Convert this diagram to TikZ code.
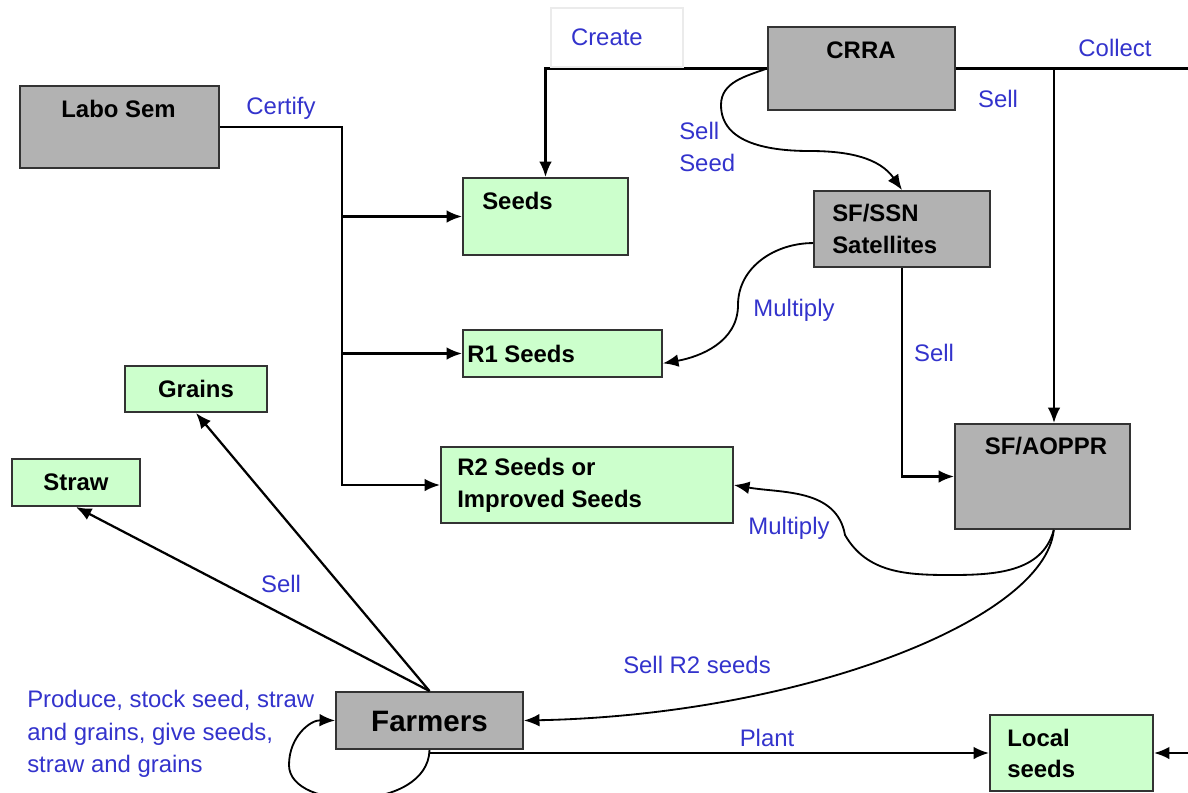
\documentclass[tikz,border=0pt]{standalone}
\usepackage{fontspec}
\setmainfont{Liberation Sans}
\usetikzlibrary{arrows.meta}
\definecolor{grisfond}{RGB}{178,178,178}
\definecolor{vertfond}{RGB}{204,255,204}
\definecolor{bleutexte}{RGB}{51,51,204}

\begin{document}
\begin{tikzpicture}[x=0.025cm,y=-0.025cm]
		% Styles
		\tikzstyle{gris}=[fill=grisfond,draw=black!80,line width=1.4pt,inner sep=0pt]
		\tikzstyle{vert}=[fill=vertfond,draw=black!80,line width=1.4pt,inner sep=0pt]
		\tikzstyle{titre}=[font=\bfseries\fontsize{17}{22.5}\selectfont,align=left,inner sep=0pt]
		\tikzstyle{libelle}=[text=bleutexte,font=\fontsize{17}{23}\selectfont,align=left,inner sep=0pt]
		\tikzstyle{lien}=[->,>={Latex[length=11pt,width=9pt]},line width=1.6pt]
		\tikzstyle{trait}=[-,line width=1.6pt]
		\tikzstyle{courbe}=[->,>={Latex[length=11pt,width=9pt]},line width=1.3pt]
		% Dimensions (un pixel)
		\def\px{0.025cm}
		
		\useasboundingbox (0,0) rectangle (1188,792);
		
		% Boites
		\node[gris,minimum width=199*\px,minimum height=82*\px] (labo) at (119.5,127) {};
		\node[gris,minimum width=187*\px,minimum height=83*\px] (crra) at (861.5,68.5) {};
		\node[vert,minimum width=165*\px,minimum height=77*\px] (seeds) at (545.5,216.5) {};
		\node[gris,minimum width=176*\px,minimum height=76*\px] (ssn) at (902,229) {};
		\node[vert,minimum width=199*\px,minimum height=47*\px] (r1) at (562.5,353.5) {};
		\node[vert,minimum width=142*\px,minimum height=46*\px] (grains) at (196,389) {};
		\node[vert,minimum width=128*\px,minimum height=47*\px] (straw) at (76,482.5) {};
		\node[vert,minimum width=292*\px,minimum height=76*\px] (r2) at (587,485) {};
		\node[gris,minimum width=175*\px,minimum height=105*\px] (aoppr) at (1042.5,476.5) {};
		\node[gris,minimum width=187*\px,minimum height=57*\px] (farmers) at (429.5,720.5) {};
		\node[vert,minimum width=163*\px,minimum height=76*\px] (local) at (1071.5,753) {};
		
		% Textes des boites
		\node[titre] (tLabo) at (118.5,109) {Labo Sem};
		\node[titre] (tCrra) at (861,50) {CRRA};
		\node[titre,anchor=west] (tSeeds) at (482,201) {Seeds};
		\node[titre,anchor=west] (tSsn) at (832,229) {SF/SSN\\Satellites};
		\node[titre,anchor=west] (tR1) at (467,353.5) {R1 Seeds};
		\node[titre] (tGrains) at (196,389) {Grains};
		\node[titre] (tStraw) at (76,482.5) {Straw};
		\node[titre,anchor=west] (tR2) at (457,485.5) {R2 Seeds or\\Improved Seeds};
		\node[titre] (tAoppr) at (1046,446) {SF/AOPPR};
		\node[titre,font=\bfseries\fontsize{21}{25}\selectfont] (tFarmers) at (429.5,721) {Farmers};
		\node[titre,anchor=west] (tLocal) at (1007,753.5) {Local\\seeds};
		
		% Points libres
		\coordinate (certif) at (342,127);
		\coordinate (collecte) at (1054,68.5);
		\coordinate (bordA) at (1188,68.5);
		\coordinate (bordB) at (1188,753);
		
		% Arcs
		\draw[lien] (labo.east) -- (certif) |- (r2.west);
		\draw[lien] (certif |- seeds.west) -- (seeds.west);
		\draw[lien] (certif |- r1.west) -- (r1.west);
		\draw[lien] (crra.west) -| (seeds.north);
		\draw[trait] (crra.east) -- (bordA);
		\draw[lien] (collecte) -- (collecte |- aoppr.north);
		\draw[courbe] (crra.west) to[out=200,in=90] (721,105) to[out=-90,in=180] (810,151) to[out=0,in=125] (ssn.north);
		\draw[courbe] ([yshift=-10pt]ssn.west) to[out=180,in=90] (738,305) to[out=-90,in=10] ([yshift=-7pt]r1.east);
		\draw[lien] (ssn.south) |- (aoppr.west);
		\draw[courbe] ([xshift=8pt]aoppr.south) to[out=-105,in=0] (950,575) to[out=180,in=-60] (845,535) to[out=100,in=-10] (r2.east);
		\draw[courbe] ([xshift=8pt]aoppr.south) .. controls (1045,620) and (800,715) .. (farmers.east);
		\draw[lien] (farmers.north) -- (straw.south);
		\draw[lien] (farmers.north) -- (grains.south);
		\draw[courbe] (farmers.south) .. controls (428,812) and (289,812) .. (289,765) .. controls (289,737) and (310,720) .. (farmers.west);
		\draw[lien] (farmers.south |- local.west) -- (local.west);
		\draw[lien] (bordB) -- (local.east);
		
		% Etiquettes
		\node[libelle] (lCertify) at (281,108) {Certify};
		\node[libelle,draw=black!8,line width=0.8pt,minimum width=132*\px,minimum height=59*\px,text width=92*\px,inner xsep=20*\px] (lCreate) at (617,37.5) {Create};
		\node[libelle] (lCollect) at (1115,48) {Collect};
		\node[libelle] (lSellA) at (998,99) {Sell};
		\node[libelle,anchor=west] (lSellSeed) at (679,147) {Sell\\Seed};
		\node[libelle] (lMultA) at (794,310) {Multiply};
		\node[libelle] (lSellB) at (934,353) {Sell};
		\node[libelle] (lMultB) at (789,528) {Multiply};
		\node[libelle] (lSellR2) at (697,665) {Sell R2 seeds};
		\node[libelle] (lPlant) at (767,738) {Plant};
		\node[libelle] (lSellC) at (281,584) {Sell};
		\node[libelle,anchor=west] (lProduce) at (27,734) {Produce, stock seed, straw\\and grains, give seeds,\\straw and grains};
		
\end{tikzpicture}
\end{document}
